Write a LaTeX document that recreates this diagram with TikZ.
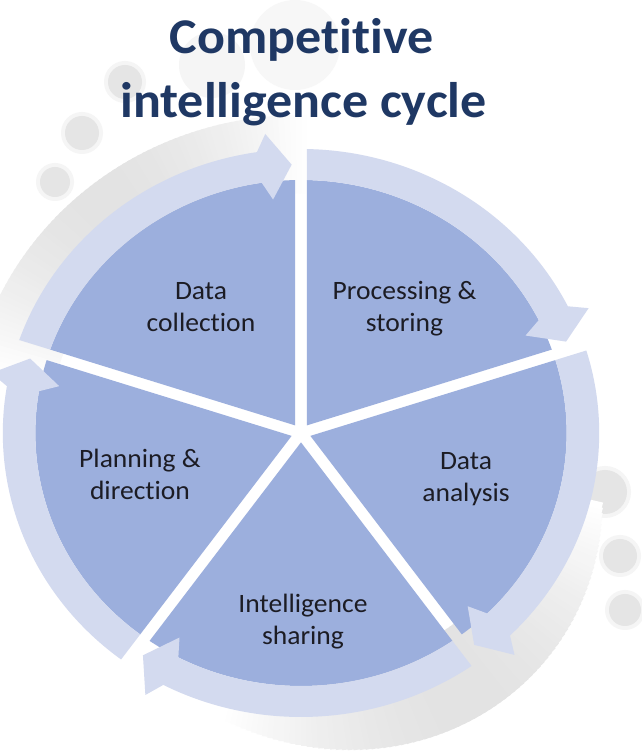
\documentclass[tikz,border=0pt]{standalone}
\usepackage{fontspec}
\setmainfont{Carlito}[Ligatures=CommonOff]
\definecolor{titleblue}{HTML}{1F3864}
\definecolor{wedgeblue}{HTML}{9CAFDD}
\definecolor{ringblue}{HTML}{D3DAEF}
\definecolor{labelink}{HTML}{1C1C24}

\begin{document}
\begin{tikzpicture}[x=1pt,y=1pt,
  titletext/.style={font=\fontsize{50}{58}\selectfont\bfseries, text=titleblue,
    anchor=base, inner sep=0pt, xscale=1.04},
  stagelabel/.style={font=\fontsize{26.5}{32}\selectfont, text=labelink,
    align=center, inner sep=0pt, xscale=1.04},
  wedge/.style={fill=wedgeblue},
  ringarrow/.style={fill=ringblue},
  halo/.style={fill=black!4},
  bubble/.style={fill=black!10}]

% page
\fill[white] (0,0) rectangle (642,755);
\useasboundingbox (0,0) rectangle (642,755);

% soft grey bubbles
\fill[black!4] (212,690) circle[radius=33];
\fill[black!3] (295,710) circle[radius=45];
\foreach \x/\y/\r in {55/573/15, 82/622/17, 125/673/17, 605/263/22, 620/199/17, 625/145/16}{
  \fill[halo] (\x,\y) circle[radius=\r+4];
  \fill[bubble] (\x,\y) circle[radius=\r];
}

\begin{scope}[shift={(301,322)}, xscale=1.05]
  % grey swoosh behind the cycle
  \foreach \a in {88,89,...,168}{
    \pgfmathsetmacro{\p}{11*sin((\a-88)/80*180)}
    \fill[black!\p] (\a:240) arc[start angle=\a, end angle=\a+1.4, radius=240]
      -- (\a+1.4:318) arc[start angle=\a+1.4, end angle=\a, radius=318] -- cycle;
  }
  \foreach \a in {-105,-104,...,-15}{
    \pgfmathsetmacro{\w}{sin((\a+105)/90*180)}
    \pgfmathsetmacro{\p}{11*\w}
    \pgfmathsetmacro{\ro}{296+34*\w}
    \fill[black!\p] (\a:240) arc[start angle=\a, end angle=\a+1.4, radius=240]
      -- (\a+1.4:\ro) arc[start angle=\a+1.4, end angle=\a, radius=\ro] -- cycle;
  }

  % five pie wedges separated by gaps
  \foreach \s in {90,18,-54,-126,-198}{
    \fill[wedge] (\s-36:9.36) -- (\s-1.25:253)
      arc[start angle=\s-1.25, end angle=\s-70.75, radius=253] -- cycle;
  }

  % circular arrows around the cycle (clockwise)
  \foreach \s in {90,18,-54,-126,-198}{
    \pgfmathsetmacro{\e}{\s-72}
    \fill[ringarrow] (\s-1.25:253) -- (\s-1.11:284)
      arc[start angle=\s-1.11, end angle=\e+8.5, radius=284]
      -- (\e+6.5:301) -- (\e+1.9:268.5) -- (\e+6.5:235) -- (\e+8.5:253)
      arc[start angle=\e+8.5, end angle=\s-1.25, radius=253] -- cycle;
  }
\end{scope}

% title
\node[titletext] (title1) at (301.5,701) {Competitive};
\node[titletext] (title2) at (303.5,637) {intelligence cycle};

% stage labels
\node[stagelabel] (collection) at (201,445.4) {\strut Data\\\strut collection};
\node[stagelabel] (processing) at (404.5,445.4) {\strut Processing \&\\\strut storing};
\node[stagelabel] (analysis) at (466,275.4) {\strut Data\\\strut analysis};
\node[stagelabel] (sharing) at (303,132.4) {\strut Intelligence\\\strut sharing};
\node[stagelabel] (planning) at (140,277.4) {\strut Planning \&\\\strut direction};
\end{tikzpicture}
\end{document}
